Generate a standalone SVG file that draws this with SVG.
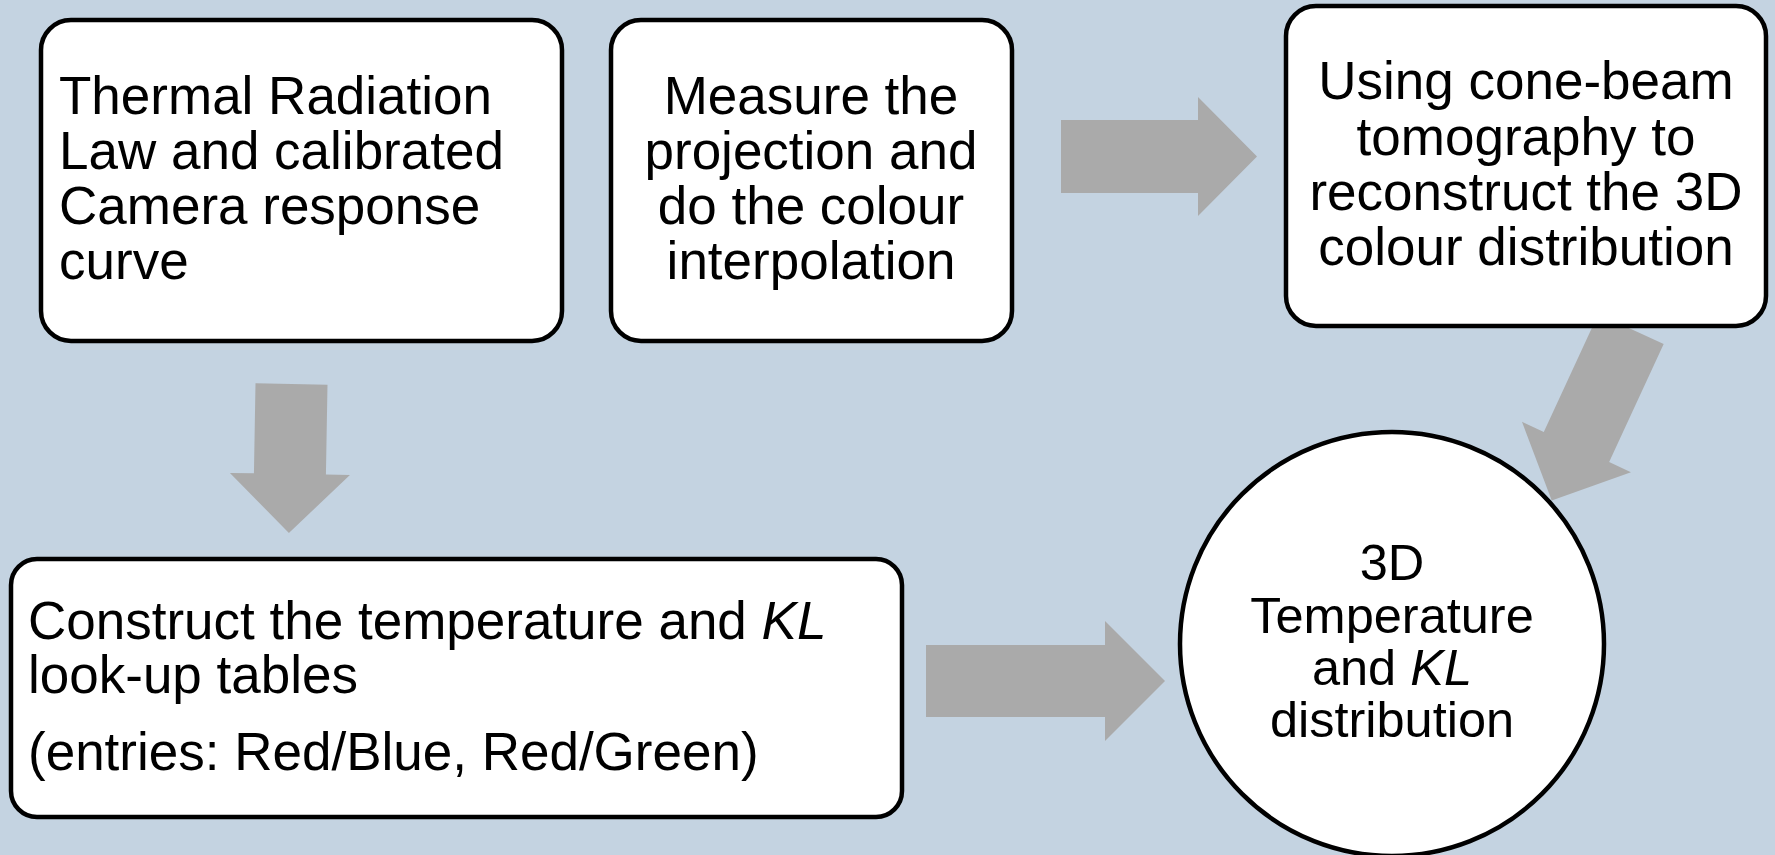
<svg xmlns="http://www.w3.org/2000/svg" width="1775" height="855" viewBox="0 0 1775 855">
<style>
.box{fill:#ffffff;stroke:#000000;stroke-width:4.5}
.arrow{fill:#aaaaaa;stroke:none}
.t{font-family:"Liberation Sans",Arial,sans-serif;font-size:53px;fill:#000000}
.c{text-anchor:middle}
.ct{font-family:"Liberation Sans",Arial,sans-serif;font-size:50.5px;fill:#000000;text-anchor:middle}
</style>
<rect x="0" y="0" width="1775" height="855" fill="#c4d3e1"/>
<g id="connectors">
<polygon class="arrow" points="1061,120 1198,120 1198,97 1257,156.5 1198,216 1198,193 1061,193"/>
<polygon class="arrow" points="926,645 1105,645 1105,621 1165,681 1105,741 1105,717 926,717"/>
<polygon class="arrow" transform="translate(291.5,384) rotate(91)" points="0,-36 90,-36 90,-60 149,0 90,60 90,36 0,36"/>
<polygon class="arrow" transform="translate(1631,329) rotate(114.8)" points="0,-36 130,-36 130,-60 189,0 130,60 130,36 0,36"/>
</g>
<g id="node-thermal">
<rect class="box" x="41" y="20" width="521" height="321" rx="30" ry="30"/>
<text class="t" x="59" y="114">Thermal Radiation</text>
<text class="t" x="59" y="169">Law and calibrated</text>
<text class="t" x="59" y="224">Camera response</text>
<text class="t" x="59" y="279">curve</text>
</g>
<g id="node-measure">
<rect class="box" x="611" y="20" width="401" height="321" rx="30" ry="30"/>
<text class="t c" x="811" y="114">Measure the</text>
<text class="t c" x="811" y="169">projection and</text>
<text class="t c" x="811" y="224">do the colour</text>
<text class="t c" x="811" y="279">interpolation</text>
</g>
<g id="node-tomography">
<rect class="box" x="1286" y="6" width="480" height="320" rx="30" ry="30"/>
<text class="t c" x="1526" y="99">Using cone-beam</text>
<text class="t c" x="1526" y="155">tomography to</text>
<text class="t c" x="1526" y="210">reconstruct the 3D</text>
<text class="t c" x="1526" y="265">colour distribution</text>
</g>
<g id="node-lookup">
<rect class="box" x="11" y="559" width="891" height="258" rx="26" ry="26"/>
<text class="t" x="28" y="639">Construct the temperature and <tspan font-style="italic">KL</tspan></text>
<text class="t" x="28" y="693">look-up tables</text>
<text class="t" x="28" y="770">(entries: Red/Blue, Red/Green)</text>
</g>
<g id="node-result">
<circle class="box" cx="1392" cy="644" r="212"/>
<text class="ct" x="1392" y="580">3D</text>
<text class="ct" x="1392" y="633">Temperature</text>
<text class="ct" x="1392" y="685">and <tspan font-style="italic">KL</tspan></text>
<text class="ct" x="1392" y="737">distribution</text>
</g>
</svg>
